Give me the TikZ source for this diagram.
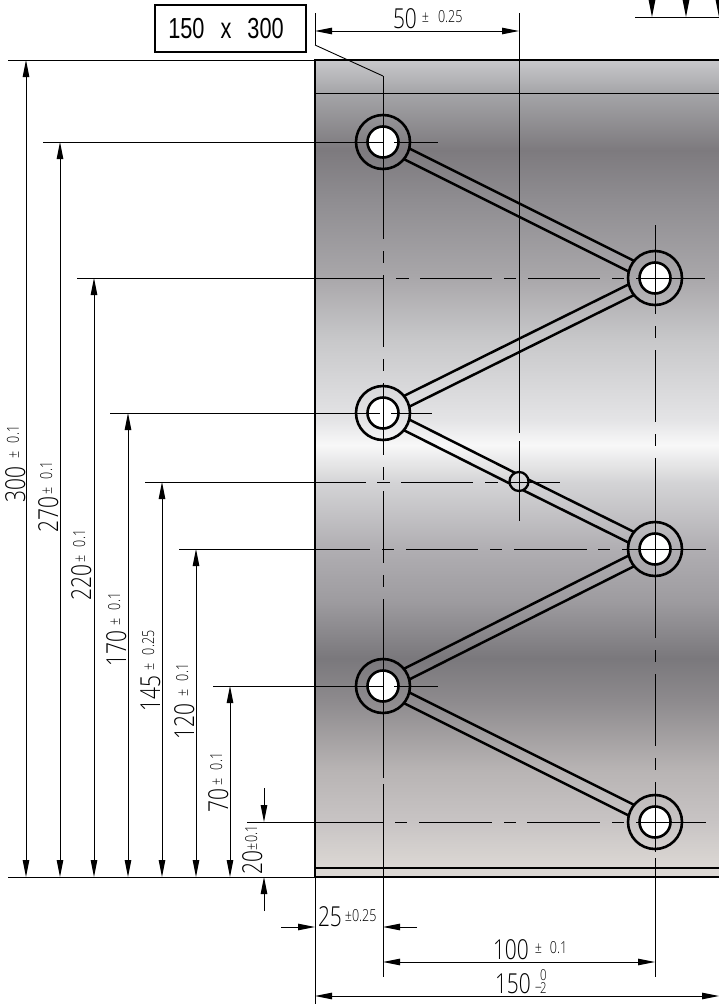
\documentclass[tikz,border=0pt]{standalone}
\usepackage{fontspec}
\usetikzlibrary{calc,arrows.meta}
\newfontfamily\dimfont[FakeStretch=0.76]{Open Sans Light}
\newfontfamily\boxfont[FakeStretch=0.75]{Liberation Sans}
\definecolor{pl0}{HTML}{DCD8D4}
\definecolor{pl1}{HTML}{C8C4C4}
\definecolor{pl2}{HTML}{B8B4B4}
\definecolor{pl3}{HTML}{8D8A8D}
\definecolor{pl4}{HTML}{7A787C}
\definecolor{pl5}{HTML}{9E9CA0}
\definecolor{pl6}{HTML}{B0AEB2}
\definecolor{pl7}{HTML}{D4D4D6}
\definecolor{pl8}{HTML}{F8F8F8}
\definecolor{pl9}{HTML}{E4E4E6}
\definecolor{pl10}{HTML}{C8C8CA}
\definecolor{pl11}{HTML}{A9A7AA}
\definecolor{pl12}{HTML}{8F8D91}
\definecolor{pl13}{HTML}{7D7A7E}
\definecolor{pl14}{HTML}{A5A5A8}
\definecolor{pl15}{HTML}{C8C8CB}
\pgfdeclareverticalshading{plategrad}{100bp}{
 color(0bp)=(pl0); color(25bp)=(pl0); color(25.55bp)=(pl0);
 color(28.37bp)=(pl1); color(31.55bp)=(pl2); color(35.83bp)=(pl3);
 color(38.4bp)=(pl4); color(41.95bp)=(pl5); color(45.07bp)=(pl6);
 color(49.17bp)=(pl7); color(51.44bp)=(pl8); color(52.97bp)=(pl9);
 color(57.86bp)=(pl10); color(61.66bp)=(pl11); color(66.43bp)=(pl12);
 color(69.49bp)=(pl13); color(72.98bp)=(pl14); color(75bp)=(pl15); color(100bp)=(pl15)}
\tikzset{
 thinline/.style={line width=0.9pt,black},
 dimline/.style={line width=0.9pt,black,{Triangle[length=17pt,width=6.5pt]}-{Triangle[length=17pt,width=6.5pt]}},
 dimend/.style={line width=0.9pt,black,-{Triangle[length=17pt,width=6.5pt]}},
 barline/.style={line width=2.5pt,black},
 ring/.style={circle,draw=black,line width=2.6pt,inner sep=0pt,outer sep=0pt,minimum size=54pt},
 bore/.style={circle,draw=black,fill=white,line width=2.6pt,inner sep=0pt,outer sep=0pt,minimum size=31pt},
 smallbore/.style={circle,draw=black,line width=2.3pt,inner sep=0pt,outer sep=0pt,minimum size=19pt},
 dimtext/.style={inner sep=0pt,outer sep=0pt,anchor=base west,font=\dimfont},
 vert/.style={rotate=90}
}
\newcommand{\mainsize}{\fontsize{27.5}{27.5}\selectfont}
\newcommand{\tolsize}{\fontsize{16.5}{16.5}\selectfont}
\newcommand{\dimlab}[4]{{\mainsize #1}\hspace{#2}\raisebox{6pt}{\tolsize ±\hspace{#3}#4}}
\newcommand{\hsegs}[2]{\foreach \a/\b in {#2}{\draw[thinline] (\a,#1) -- (\b,#1);}}
\newcommand{\vsegs}[2]{\foreach \a/\b in {#2}{\draw[thinline] (#1,\a) -- (#1,\b);}}
\newcommand{\platebar}[6]{%
 \draw[barline] ($(#1)!#3!#4:(#2)$) -- ($(#2)!#5!-#6:(#1)$);
 \draw[barline] ($(#1)!#3!-#4:(#2)$) -- ($(#2)!#5!#6:(#1)$);}
\newcommand{\dimspan}[4][dimline]{\coordinate (#2a) at #3; \coordinate (#2b) at #4; \draw[#1] (#2a) -- (#2b);}
\begin{document}
\begin{tikzpicture}[x=1pt,y=-1pt]
\useasboundingbox (0,0) rectangle (719,1004);
\clip (0,0) rectangle (719,1004);
% plate
\path[shading=plategrad] (315,60) rectangle (719,877);
% holes
\node[ring] (h1r) at (383,142) {};
\node[bore] (h1) at (383,142) {};
\node[ring] (h2r) at (655,278) {};
\node[bore] (h2) at (655,278) {};
\node[ring] (h3r) at (383,413) {};
\node[bore] (h3) at (383,413) {};
\node[ring] (h4r) at (655,549) {};
\node[bore] (h4) at (655,549) {};
\node[ring] (h5r) at (383,686) {};
\node[bore] (h5) at (383,686) {};
\node[ring] (h6r) at (655,822) {};
\node[bore] (h6) at (655,822) {};
\node[smallbore] (s) at (519,481.5) {};
% bars
\platebar{h1}{h2}{27pt}{12.8}{27pt}{12.8}
\platebar{h2}{h3}{27pt}{12.8}{27pt}{12.8}
\platebar{h3}{s}{27pt}{12.8}{9.5pt}{39}
\platebar{s}{h4}{9.5pt}{39}{27pt}{12.8}
\platebar{h4}{h5}{27pt}{12.8}{27pt}{12.8}
\platebar{h5}{h6}{27pt}{12.8}{27pt}{12.8}
% extension and centre lines
\hsegs{60}{8/315}
\hsegs{93}{315/719}
\hsegs{142}{43/383,394/438}
\hsegs{278}{77/384,396/409,420/492,504/516,528/600,612/624,636/705}
\hsegs{413}{110/380,391/432}
\hsegs{482}{145/366,377/390,401/473,485/498,510/560}
\hsegs{549}{179/370,382/394,406/478,490/502,514/587,598/610,622/706}
\hsegs{686}{213/383,394/438}
\hsegs{822}{247/383,395/407,419/492,504/516,527/600,612/624,636/706}
\hsegs{877}{8/315}
\vsegs{383}{76/239,251/263,275/347,359/371,383/455,467/480,491/563,575/587,599/778,784/977}
\vsegs{655}{225/314,326/338,350/422,434/446,458/638,650/662,674/746,758/770,782/852,858/977}
\vsegs{519}{13/433,441/521}
\vsegs{315}{13/45,877/1004}
\draw[thinline] (315,45) -- (383,76);
% plate outline
\draw[line width=2.4pt] (722,60) -- (315,60) -- (315,877) -- (722,877);
\draw[line width=2.2pt] (315,868) -- (722,868);
% dimensions
\dimspan{dA}{(26,60)}{(26,877)}
\dimspan{dB}{(60,142)}{(60,877)}
\dimspan{dC}{(94,278)}{(94,877)}
\dimspan{dD}{(128,413)}{(128,877)}
\dimspan{dE}{(162,482)}{(162,877)}
\dimspan{dF}{(196,549)}{(196,877)}
\dimspan{dG}{(230,686)}{(230,877)}
\dimspan[dimend]{dH}{(264,788)}{(264,822)}
\dimspan[dimend]{dI}{(264,911)}{(264,877)}
\dimspan[dimend]{dJ}{(281,927)}{(315,927)}
\dimspan[dimend]{dK}{(417,927)}{(383,927)}
\dimspan{dL}{(315,31)}{(519,31)}
\dimspan{dM}{(383,962)}{(655,962)}
\dimspan{dN}{(315,996)}{(719,996)}
% top right fragment
\coordinate (ta) at (635,17); \coordinate (tb) at (719,17);
\draw[thinline] (ta) -- (tb);
\dimspan[dimend]{tA}{(652,-1)}{(652,17)}
\dimspan[dimend]{tB}{(686,-1)}{(686,17)}
\dimspan[dimend]{tC}{(719,-1)}{(719,17)}
% labels
\node[dimtext,vert] (l300) at (25,502) {\dimlab{300}{8pt}{8pt}{0.1}};
\node[dimtext,vert] (l270) at (58,532) {\dimlab{270}{2pt}{8pt}{0.1}};
\node[dimtext,vert] (l220) at (91,600) {\dimlab{220}{2pt}{8pt}{0.1}};
\node[dimtext,vert] (l170) at (126,666) {\dimlab{170}{5pt}{8pt}{0.1}};
\node[dimtext,vert] (l145) at (160,711) {\dimlab{145}{5pt}{8pt}{0.25}};
\node[dimtext,vert] (l120) at (194,739) {\dimlab{120}{7pt}{8pt}{0.1}};
\node[dimtext,vert] (l70) at (228,812) {\dimlab{70}{3pt}{8pt}{0.1}};
\node[dimtext,vert] (l20) at (262,874) {{\mainsize 20}\raisebox{5pt}{\tolsize ±0.1}};
\node[dimtext] (l50) at (393,28) {\dimlab{50}{5pt}{9pt}{0.25}};
\node[dimtext] (l25) at (318,926) {{\mainsize 25}\hspace{3pt}\raisebox{5pt}{\tolsize ±0.25}};
\node[dimtext] (l100) at (493,959) {\dimlab{100}{6pt}{8pt}{0.1}};
\node[dimtext] (l150) at (495,993) {{\mainsize 150}\hspace{4pt}\raisebox{0pt}{\tolsize −}};
\node[inner sep=0pt,outer sep=0pt,anchor=south west,align=left,font=\dimfont\fontsize{15}{13.5}\selectfont] (l150b) at (540,993.5) {0\\2};
\node[draw=black,line width=1.3pt,inner sep=0pt,outer sep=0pt,minimum width=151pt,minimum height=47pt,font=\boxfont] (box) at (230.5,28.5)
 {\fontsize{29}{29}\selectfont\spaceskip=16pt\hspace*{-9pt}150 x 300};
\end{tikzpicture}
\end{document}
